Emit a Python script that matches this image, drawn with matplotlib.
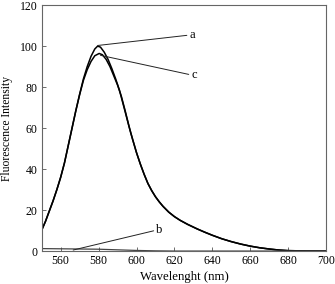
import numpy as np
import matplotlib
matplotlib.use('Agg')
import matplotlib.pyplot as plt

plt.rcParams['font.family'] = ['Liberation Serif', 'DejaVu Serif']

# curve a
wl_a = [550, 552, 554, 556, 558, 560, 562, 564, 566, 568, 570, 572, 574, 576, 578, 579.5,
        581, 583, 585, 587, 589, 591, 593, 595, 597, 600, 602, 604, 606, 608, 610, 612,
        614, 617, 620, 623, 627, 632, 636, 640, 645, 650, 655, 660, 665, 670, 675, 680,
        690, 700]
int_a = [10.2, 14.5, 19.5, 24.5, 30, 36, 43, 51.5, 60, 68.5, 76.5, 84, 90, 95, 98.6, 100,
         99.5, 97, 93.5, 89, 84, 78.5, 71.5, 64.5, 57.5, 48, 42.5, 37.5, 33, 29.5, 26.5, 24,
         21.8, 19, 16.8, 15, 13, 10.8, 9.2, 7.7, 6, 4.6, 3.4, 2.4, 1.6, 1, 0.5, 0.2,
         0.05, 0]
# curve c
wl_c = [550, 552, 554, 556, 558, 560, 562, 564, 566, 568, 570, 572, 574, 576, 578, 580.3,
        582, 584, 586, 588, 590, 592, 594, 596, 598, 600, 602, 604, 606, 608, 610, 612,
        614, 617, 620, 623, 627, 632, 636, 640, 645, 650, 655, 660, 665, 670, 675, 680,
        690, 700]
int_c = [10.2, 14.5, 19.5, 24.5, 30, 36, 43, 51.5, 60, 68.5, 76.3, 83.3, 88.5, 92.5, 95.3, 96.4,
         95.8, 93.5, 90, 85.5, 81, 75.5, 68.5, 61, 54.3, 48, 42.5, 37.5, 33, 29.5, 26.5, 24,
         21.8, 19, 16.8, 15, 13, 10.8, 9.2, 7.7, 6, 4.6, 3.4, 2.4, 1.6, 1, 0.5, 0.2,
         0.05, 0]
# curve b
wl_b = [550, 560, 570, 580, 590, 600, 610, 620, 700]
int_b = [1.2, 1.1, 1.0, 0.9, 0.6, 0.3, 0.1, 0, 0]

fig = plt.figure(figsize=(3.35, 2.84), dpi=100)
ax = fig.add_axes([0.1245, 0.116, 0.849, 0.866])

ax.plot(wl_a, int_a, color='black', lw=1.1)
ax.plot(wl_c, int_c, color='black', lw=1.1)
ax.plot(wl_b, int_b, color='#444444', lw=0.9)

lbl = dict(arrowstyle='-', shrinkA=0, shrinkB=0, lw=0.7, color='#222222', relpos=(0, 0.5))
ax.annotate('a', xy=(579.5, 100.3), xytext=(628, 105.4), ha='left', va='center',
            fontsize=9, arrowprops=lbl)
ax.annotate('c', xy=(581, 95.5), xytext=(629, 85.9), ha='left', va='center',
            fontsize=9, arrowprops=lbl)
ax.annotate('b', xy=(566.6, 0.5), xytext=(610.5, 10.2), ha='left', va='center',
            fontsize=9, arrowprops=lbl)

ax.set_xlim(550, 700)
ax.set_ylim(0, 120)
ax.set_xticks([560, 580, 600, 620, 640, 660, 680, 700])
ax.set_yticks([0, 20, 40, 60, 80, 100, 120])
ax.tick_params(direction='in', length=3, width=0.6, labelsize=8.5, pad=3, color='#555555')
for s in ax.spines.values():
    s.set_color('#666666')
    s.set_linewidth(0.8)

ax.set_xlabel('Wavelenght (nm)', fontsize=9.2, labelpad=2.5)
ax.set_ylabel('Fluorescence Intensity', fontsize=8.4, labelpad=5)

plt.savefig('out.png', dpi=100)
